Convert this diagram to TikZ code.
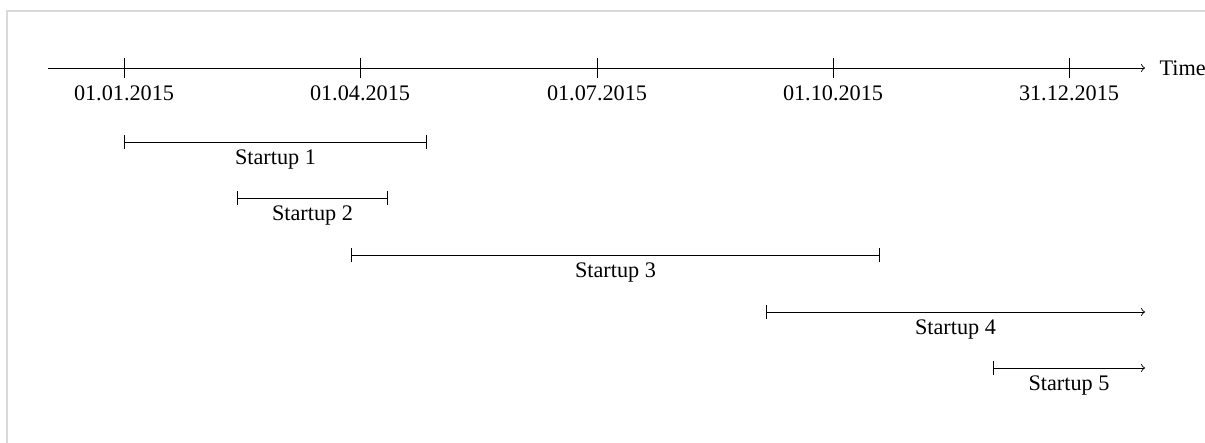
\documentclass[tikz,border=0pt]{standalone}
\usepackage{fontspec}
\setmainfont{Liberation Serif}
\usetikzlibrary{arrows,arrows.meta}
\tikzstyle{frame}=[draw=black!15,line width=0.6pt]
\tikzstyle{span}=[{Bar[width=6.4pt]}-{Bar[width=6.4pt]}]
\tikzstyle{ongoing}=[{Bar[width=6.4pt]}-to]
\begin{document}
\begin{tikzpicture}[>=to,x=0.45pt,y=-0.45pt]
    % Page size and the thin frame at top and left
    \useasboundingbox (0,0) rectangle (1205,443);
    \draw[frame] (7,443) -- (7,11) -- (1205,11);
    % The time axis:
    \coordinate (t_start) at (48,68);
    \coordinate (t_end) at (1145,68);
    \draw[->] (t_start) -- (t_end);
    \node (time) [right=3pt] at (t_end) {Time};
    % Quarter ticks with their dates
    \foreach \x/\d [count=\i] in {124/01.01.2015,360/01.04.2015,597/01.07.2015,833/01.10.2015,1069/31.12.2015} {
      \coordinate (tick_\i) at (\x,58);
      \coordinate (tock_\i) at (\x,78);
      \draw (tick_\i) -- (tock_\i);
      \node (date_\i) [below] at (tock_\i) {\d};
    }
    % Lifetime of each startup
    \foreach \a/\b/\y/\s [count=\n] in {124/427/142/span,237/388/198/span,351/880/255/span,766/1145/312/ongoing,993/1145/368/ongoing} {
      \coordinate (s_\n-a) at (\a,\y);
      \coordinate (s_\n-b) at (\b,\y);
      \draw[\s] (s_\n-a) -- node[below] (startup_\n) {Startup \n} (s_\n-b);
    }
\end{tikzpicture}
\end{document}
